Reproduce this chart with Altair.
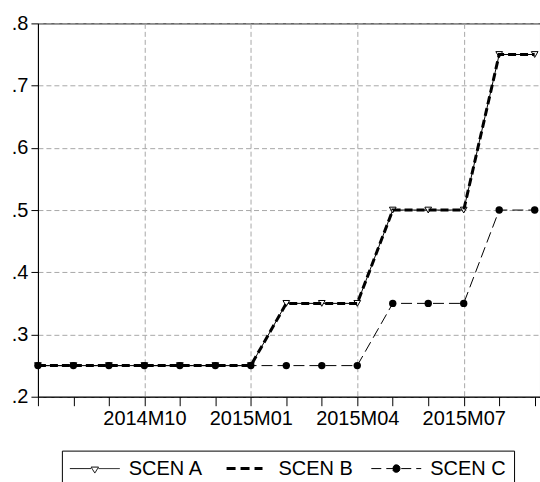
import json
import altair as alt
import pandas as pd

# Monthly observations
months = ["2014M07", "2014M08", "2014M09", "2014M10", "2014M11", "2014M12",
          "2015M01", "2015M02", "2015M03", "2015M04", "2015M05", "2015M06",
          "2015M07", "2015M08", "2015M09"]

scen_a = [0.25, 0.25, 0.25, 0.25, 0.25, 0.25, 0.25,
          0.35, 0.35, 0.35, 0.50, 0.50, 0.50, 0.75, 0.75]
scen_b = [0.25, 0.25, 0.25, 0.25, 0.25, 0.25, 0.25,
          0.35, 0.35, 0.35, 0.50, 0.50, 0.50, 0.75, 0.75]
scen_c = [0.25, 0.25, 0.25, 0.25, 0.25, 0.25, 0.25,
          0.25, 0.25, 0.25, 0.35, 0.35, 0.35, 0.50, 0.50]

names = ["SCEN A", "SCEN B", "SCEN C"]
y_ticks = [0.2, 0.3, 0.4, 0.5, 0.6, 0.7, 0.8]

rows = []
for name, vals in zip(names, [scen_a, scen_b, scen_c]):
    for i, (m, v) in enumerate(zip(months, vals)):
        rows.append({"t": i, "month": m, "series": name, "value": v})
df = pd.DataFrame(rows)

FONT = "Liberation Sans"
GRID = "#a8a8a8"

x_axis = alt.Axis(
    values=list(range(len(months))),
    labelExpr="datum.value % 3 == 0 && datum.value > 0 ? "
              + json.dumps(months) + "[datum.value] : ''",
    title=None, tickSize=9, tickColor="black", domainColor="black",
    labelFont=FONT, labelFontSize=20, labelColor="black", labelPadding=3,
    labelFlush=False, labelOverlap=False,
    gridColor=GRID, gridDash=[5, 3],
    gridOpacity={"condition": {"test": "datum.value % 3 == 0 && datum.value > 0",
                               "value": 1}, "value": 0},
)
y_axis = alt.Axis(
    values=y_ticks, labelExpr="substring(format(datum.value, '.1f'), 1)",
    title=None, tickSize=7, tickColor="black", domainColor="black",
    labelFont=FONT, labelFontSize=20, labelColor="black", labelPadding=3,
    gridColor=GRID, gridDash=[5, 3],
)

base = alt.Chart(df).encode(
    x=alt.X("t:Q", scale=alt.Scale(domain=[0, 14.15], nice=False, zero=False), axis=x_axis),
    y=alt.Y("value:Q", scale=alt.Scale(domain=[0.2, 0.8], nice=False, zero=False), axis=y_axis),
)

def only(name):
    return base.transform_filter(alt.datum.series == name)

# Series drawn in order: A (line + markers), B, C (line + markers)
line_a = only("SCEN A").mark_line(color="black", strokeWidth=1)
pts_a = only("SCEN A").mark_point(shape="triangle-down", size=45, color="black",
                                  fill="white", filled=False, opacity=1, strokeWidth=1)
line_b = only("SCEN B").mark_line(color="black", strokeWidth=3, strokeDash=[8, 4])
line_c = only("SCEN C").mark_line(color="black", strokeWidth=1, strokeDash=[11, 5])
pts_c = only("SCEN C").mark_point(shape="circle", size=55, color="black",
                                  filled=True, opacity=1)

# Legend symbols: line segment with marker, in units of 5px
sym_a = "M-5,0H-0.75M0.75,0H5M-0.75,-0.3H0.75L0,0.9Z"
sym_b = "M-3.6,0H3.6"
sym_c = ("M-5,0H5M0.75,0A0.75,0.75,0,1,1,-0.75,0A0.75,0.75,0,1,1,0.75,0Z")

key = base.transform_filter("datum.t < 0").mark_point(
    color="black", opacity=1, size=100
).encode(
    shape=alt.Shape("series:N", scale=alt.Scale(domain=names, range=[sym_a, sym_b, sym_c]),
                    legend=alt.Legend(title=None)),
    strokeDash=alt.StrokeDash("series:N", scale=alt.Scale(domain=names,
                              range=[[1, 0], [9, 5], [10, 5]]), legend=alt.Legend(title=None)),
    strokeWidth=alt.StrokeWidth("series:N", scale=alt.Scale(type="ordinal", domain=names,
                                range=[1, 3, 1]), legend=alt.Legend(title=None)),
    fill=alt.Fill("series:N", scale=alt.Scale(domain=names, range=["white", "black", "black"]),
                  legend=alt.Legend(title=None)),
)

chart = alt.layer(line_a, pts_a, line_b, line_c, pts_c, key).properties(
    width=503, height=374,
    padding={"left": 38, "top": 23, "right": 0, "bottom": 85},
    autosize=alt.AutoSizeParams(type="none"),
    background="white",
).configure(font=FONT).configure_view(
    stroke="black", strokeWidth=1
).configure_legend(
    orient="none", legendX=24, legendY=428, direction="horizontal",
    strokeColor="black", padding=8,
    labelFont=FONT, labelFontSize=20, labelColor="black",
    labelOffset=24, symbolOffset=15, columnPadding=16, symbolSize=100,
)

chart.save("out.html", embed_options={"renderer": "svg", "actions": False})
